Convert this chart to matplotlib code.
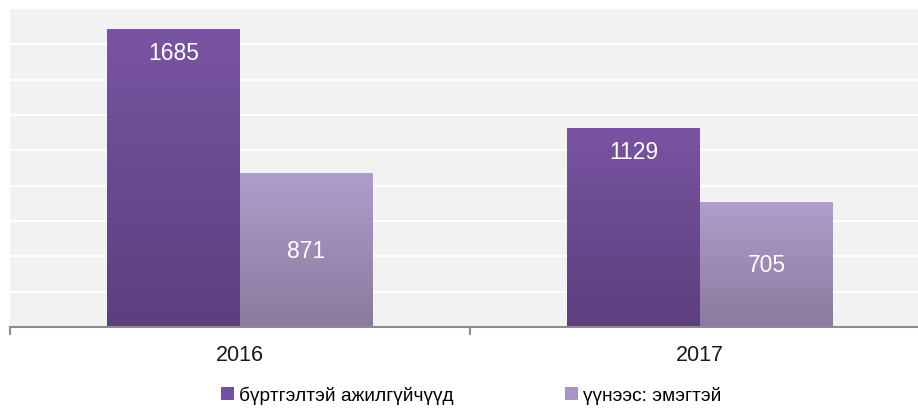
import numpy as np
import matplotlib
matplotlib.use("Agg")
import matplotlib.pyplot as plt
from matplotlib.colors import LinearSegmentedColormap
from matplotlib.patches import Patch

plt.rcParams["font.family"] = ["Liberation Sans", "DejaVu Sans"]

# -----------------------------
# Data
# -----------------------------
years = ["2016", "2017"]
registered = [1685, 1129]
women = [871, 705]
series_names = ["бүртгэлтэй ажилгүйчүүд", "үүнээс: эмэгтэй"]

# gradient colours (top, bottom) per series
grad_reg = ("#7954A2", "#5C3F7E")
grad_wom = ("#B09DCB", "#8B7A9E")
legend_colors = ["#7450A0", "#A895C4"]

# -----------------------------
# Figure / axes
# -----------------------------
fig = plt.figure(figsize=(9.18, 4.14), dpi=100)
ax = fig.add_axes([10 / 918, 86 / 414, 920 / 918, 318 / 414])
ax.set_facecolor("#F2F2F2")

x = np.arange(len(years))
w = 0.289

bars1 = ax.bar(x - w / 2, registered, w, color="none", zorder=3)
bars2 = ax.bar(x + w / 2, women, w, color="none", zorder=3)


def fill_gradient(bars, colors):
    cmap = LinearSegmentedColormap.from_list("g", [colors[1], colors[0]])
    grad = np.linspace(0, 1, 256).reshape(-1, 1)
    for b in bars:
        bx, by = b.get_x(), b.get_y()
        bw, bh = b.get_width(), b.get_height()
        im = ax.imshow(grad, cmap=cmap, origin="lower", aspect="auto",
                       extent=[bx, bx + bw, by, by + bh], zorder=2)
        im.set_clip_path(b)


fill_gradient(bars1, grad_reg)
fill_gradient(bars2, grad_wom)

ax.set_xlim(-0.5, 1.5)
ax.set_ylim(0, 1800)

# grid
ax.set_yticks(np.arange(200, 1800, 200))
ax.yaxis.grid(True, color="white", linewidth=1.5, zorder=1)
ax.set_axisbelow(True)
ax.tick_params(axis="y", left=False, labelleft=False)

# x axis: boundary ticks + centred labels
ax.set_xticks([-0.5, 0.5, 1.5])
ax.set_xticklabels([])
ax.tick_params(axis="x", which="major", length=6, width=1.5, color="#8C8C8C")
ax.set_xticks(x, minor=True)
ax.set_xticklabels(years, minor=True, fontsize=15.5, color="#1A1A1A")
ax.tick_params(axis="x", which="minor", length=0, pad=12)

for s in ["top", "right", "left"]:
    ax.spines[s].set_visible(False)
ax.spines["bottom"].set_color("#8C8C8C")
ax.spines["bottom"].set_linewidth(1.5)

# data labels
for b, v in zip(bars1, registered):
    ax.annotate(str(v), (b.get_x() + b.get_width() / 2, v),
                xytext=(0, -17), textcoords="offset points",
                ha="center", va="center", color="white", fontsize=16.5, zorder=5)
ax.bar_label(bars2, labels=[str(v) for v in women], label_type="center",
             color="white", fontsize=16.5, zorder=5)

# legend
handles = [Patch(facecolor=c, edgecolor="none") for c in legend_colors]
fig.legend(handles, series_names, loc="center", bbox_to_anchor=(0.513, 1 - 396 / 414),
           ncol=2, frameon=False, fontsize=13.8, handlelength=0.68,
           handleheight=0.68, handletextpad=0.27, columnspacing=5.8)

fig.savefig("out.png", dpi=100)
